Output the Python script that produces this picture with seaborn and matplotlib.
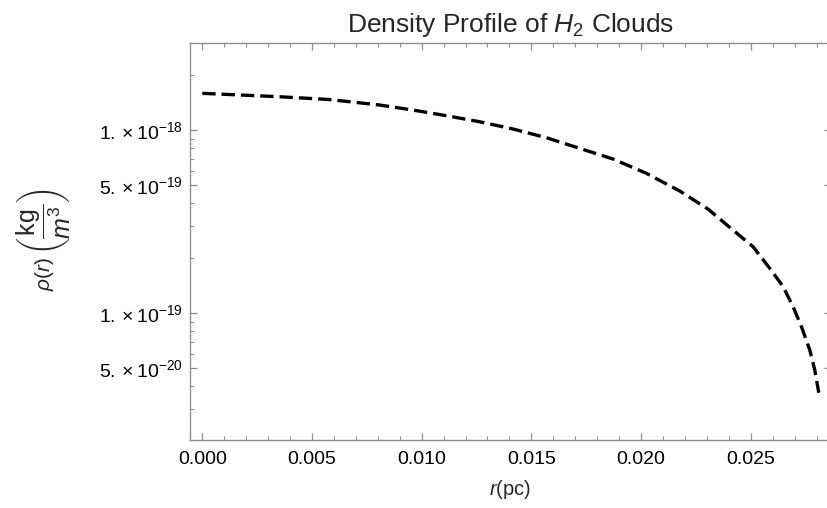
import numpy as np
import pandas as pd
import matplotlib
matplotlib.use("Agg")
import matplotlib.pyplot as plt
import matplotlib.ticker as mticker
import seaborn as sns

# Data
r_pc = [0.0, 0.003525, 0.005805, 0.008085, 0.009603, 0.011126, 0.012645,
        0.014163, 0.015686, 0.017204, 0.018723, 0.020246, 0.021765, 0.023055,
        0.024195, 0.025107, 0.025869, 0.026475, 0.026931, 0.027314, 0.027693,
        0.027921, 0.028103]
rho = [1.593e-18, 1.526e-18, 1.473e-18, 1.375e-18, 1.291e-18, 1.202e-18,
       1.114e-18, 1.017e-18, 9.11e-19, 7.97e-19, 6.97e-19, 5.82e-19, 4.66e-19,
       3.71e-19, 2.85e-19, 2.31e-19, 1.76e-19, 1.40e-19, 1.087e-19, 8.45e-20,
       6.30e-20, 4.90e-20, 3.68e-20]

x_ticks = [0.000, 0.005, 0.010, 0.015, 0.020, 0.025]
x_tick_labels = ["0.000", "0.005", "0.010", "0.015", "0.020", "0.025"]
y_ticks = [1e-18, 5e-19, 1e-19, 5e-20]
y_tick_labels = [r"$1.\times10^{-18}$", r"$5.\times10^{-19}$",
                 r"$1.\times10^{-19}$", r"$5.\times10^{-20}$"]

df = pd.DataFrame({"r": r_pc, "rho": rho})

sns.set_style("ticks")
plt.rcParams["font.family"] = ["Liberation Sans", "DejaVu Sans"]
plt.rcParams["mathtext.fontset"] = "custom"
plt.rcParams["mathtext.rm"] = "Liberation Sans"
plt.rcParams["mathtext.it"] = "Liberation Sans:italic"
plt.rcParams["mathtext.bf"] = "Liberation Sans:bold"

W, H = 827, 508
fig = plt.figure(figsize=(W / 100, H / 100), dpi=100)
ax = fig.add_axes([190 / W, 1 - 440 / H, (831 - 190) / W, (440 - 43.3) / H])

sns.lineplot(data=df, x="r", y="rho", ax=ax, color="black", linewidth=2.4)
ax.lines[0].set_dashes([4.0, 1.8])
ax.lines[0].set_dash_capstyle("butt")

ax.set_yscale("log")
ax.set_xlim(-0.00056, 0.02866)
ax.set_ylim(2.03e-20, 2.99e-18)

frame_col = "#8f8f8f"
for s in ax.spines.values():
    s.set_color(frame_col)
    s.set_linewidth(1.0)
    s.set_visible(True)

ax.xaxis.set_major_locator(mticker.FixedLocator(x_ticks))
ax.xaxis.set_major_formatter(mticker.FixedFormatter(x_tick_labels))
ax.xaxis.set_minor_locator(mticker.MultipleLocator(0.001))
ax.yaxis.set_major_locator(mticker.FixedLocator(y_ticks))
ax.yaxis.set_major_formatter(mticker.FixedFormatter(y_tick_labels))
ax.yaxis.set_minor_locator(mticker.LogLocator(base=10, subs=np.arange(2, 10)))
ax.yaxis.set_minor_formatter(mticker.NullFormatter())

ax.tick_params(which="both", direction="in", top=True, right=True,
               color=frame_col, labelsize=14, labelcolor="black")
ax.tick_params(which="major", length=4.8, width=0.9)
ax.tick_params(which="minor", length=2.9, width=0.7)
ax.tick_params(axis="x", pad=8)
ax.tick_params(axis="y", pad=5)

ax.set_xlabel(r"$r$(pc)", fontsize=14.5, labelpad=7)
ax.set_ylabel("")
# y-axis label in two parts: rho(r) and the large bracketed unit fraction
fig.text(44 / W, 1 - 274 / H, r"$\rho(r)$", rotation=90, ha="center", va="center",
         fontsize=15)
fig.text(43.5 / W, 1 - 222 / H, r"$\left(\dfrac{\mathrm{kg}}{m^3}\right)$", rotation=90,
         ha="center", va="center", fontsize=18)
ax.set_title(r"Density Profile of $H_2$ Clouds", fontsize=19, pad=8)

fig.savefig("out.png", dpi=100)
